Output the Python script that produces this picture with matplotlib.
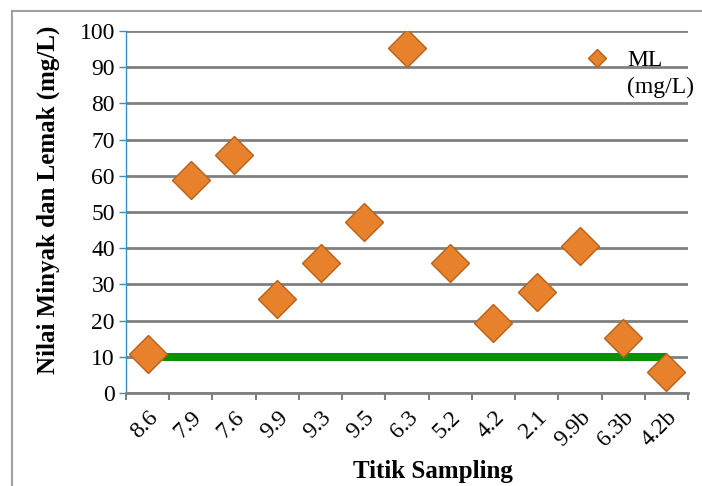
import matplotlib
matplotlib.use("Agg")
import matplotlib.pyplot as plt
from matplotlib.lines import Line2D
import numpy as np

categories = ["8.6", "7.9", "7.6", "9.9", "9.3", "9.5", "6.3", "5.2", "4.2", "2.1", "9.9b", "6.3b", "4.2b"]
ml_values = [10.7, 58.8, 65.7, 26.0, 36.0, 47.2, 95.4, 36.0, 19.3, 27.8, 40.6, 15.1, 5.9]
baku_mutu = [10] * len(categories)
y_ticks = list(range(0, 101, 10))

plt.rcParams['font.family'] = ['Liberation Serif', 'DejaVu Serif']

fig = plt.figure(figsize=(7.02, 4.86), dpi=100)
W, H = 702, 486
ax = fig.add_axes([126 / W, 1 - 393 / H, (688 - 126) / W, (393 - 31) / H])

x = np.arange(len(categories))
ax.plot(x, baku_mutu, color='#0A8F0A', lw=5.8, solid_capstyle='butt', zorder=3)
ax.plot(x, ml_values, linestyle='none', marker='D', markersize=19.5,
        markerfacecolor='#E8812B', markeredgecolor='#B8611A', markeredgewidth=1.0, zorder=4)

ax.set_xlim(-0.5, len(categories) - 0.5)
ax.set_ylim(0, 100)
ax.set_yticks(y_ticks)
ax.set_yticklabels([str(v) for v in y_ticks], fontsize=17)
ax.yaxis.grid(True, color='#808080', lw=2)
ax.set_axisbelow(True)

ax.set_xticks(np.arange(len(categories) + 1) - 0.5)
ax.set_xticklabels([])
ax.set_xticks(x, minor=True)
ax.set_xticklabels(categories, minor=True, rotation=45, ha='right', rotation_mode='anchor', fontsize=17)
ax.tick_params(axis='x', which='minor', length=0, pad=10)
ax.tick_params(axis='x', which='major', length=5, width=1.5, color='#808080', direction='out')
ax.tick_params(axis='y', length=5, width=1, color='#3A8CC4', pad=3)

for s in ['top', 'right']:
    ax.spines[s].set_visible(False)
ax.spines['left'].set_color('#3A8CC4')
ax.spines['left'].set_linewidth(1)
ax.spines['bottom'].set_color('#808080')
ax.spines['bottom'].set_linewidth(2)

fig.text(48 / W, 1 - 200 / H, "Nilai Minyak dan Lemak (mg/L)", rotation=90,
         ha='center', va='center', fontsize=18, fontweight='bold')
fig.text(433 / W, 1 - 471 / H, "Titik Sampling", ha='center', va='center',
         fontsize=18, fontweight='bold')

# legend (two rows: marker with "ML", blank handle with "(mg/L)")
handle = Line2D([], [], linestyle='none', marker='D', markersize=9,
                markerfacecolor='#E8812B', markeredgecolor='#B8611A')
blank = Line2D([], [], linestyle='none')
leg = ax.legend([handle, blank], ["ML", "(mg/L)"], loc='upper left',
                bbox_to_anchor=((566 - 126) / (688 - 126), 1 - (38 - 31) / (393 - 31)),
                frameon=False, fontsize=17, handlelength=1.6, handletextpad=0.5,
                borderpad=0, labelspacing=0.2)

# outer frame
fig.add_artist(Line2D([12 / W, 12 / W], [0, 1 - 11 / H], transform=fig.transFigure, color='#A0A0A0', lw=1.5))
fig.add_artist(Line2D([12 / W, 1], [1 - 11 / H, 1 - 11 / H], transform=fig.transFigure, color='#A0A0A0', lw=1.5))

fig.savefig("out.png", dpi=100)
